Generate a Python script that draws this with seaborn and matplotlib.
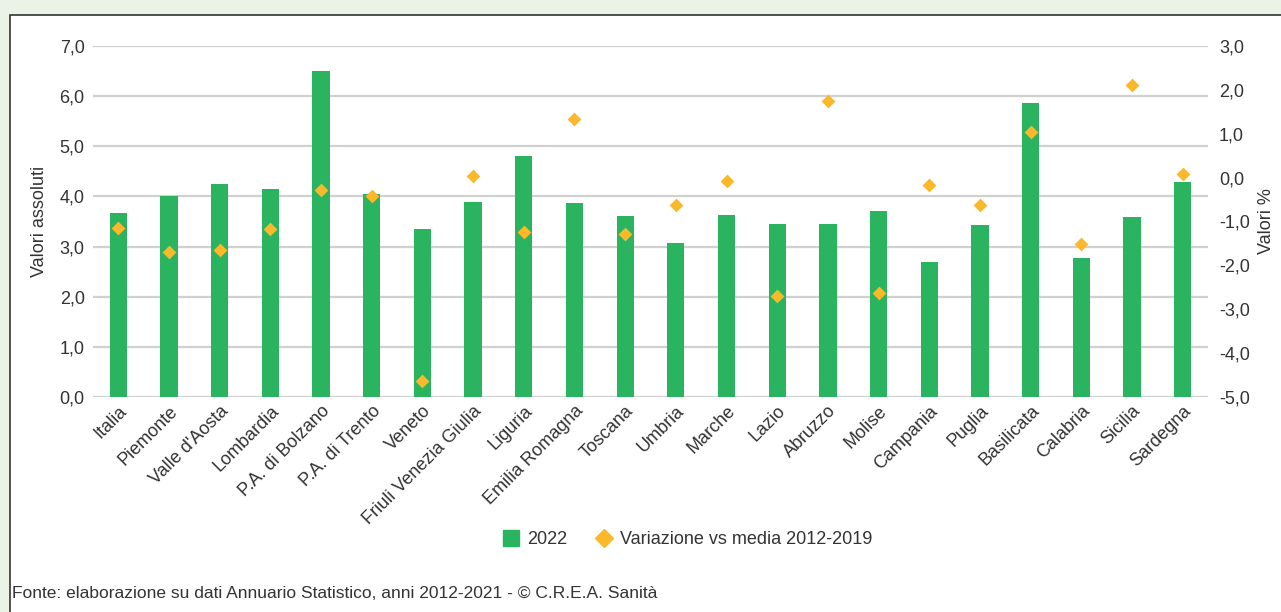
import pandas as pd
import matplotlib.pyplot as plt
import seaborn as sns
import numpy as np
from matplotlib.patches import Rectangle
from matplotlib.lines import Line2D
from matplotlib.ticker import FuncFormatter, MultipleLocator

regions = ["Italia", "Piemonte", "Valle d'Aosta", "Lombardia", "P.A. di Bolzano", "P.A. di Trento",
           "Veneto", "Friuli Venezia Giulia", "Liguria", "Emilia Romagna", "Toscana", "Umbria",
           "Marche", "Lazio", "Abruzzo", "Molise", "Campania", "Puglia", "Basilicata",
           "Calabria", "Sicilia", "Sardegna"]
valori_2022 = [3.67, 4.01, 4.24, 4.15, 6.50, 4.05, 3.36, 3.88, 4.81, 3.86, 3.60,
               3.08, 3.62, 3.46, 3.46, 3.70, 2.70, 3.43, 5.86, 2.77, 3.58, 4.29]
variazione = [-1.15, -1.69, -1.66, -1.17, -0.28, -0.43, -4.64, 0.03, -1.25, 1.33, -1.28,
              -0.62, -0.08, -2.69, 1.74, -2.64, -0.16, -0.62, 1.03, -1.52, 2.10, 0.08]

bar_color = '#2bb460'
dot_color = '#fbb829'
text_color = '#333333'

df = pd.DataFrame({'Regione': regions, 'Valore': valori_2022, 'Variazione': variazione})

sns.set_style('white')
plt.rcParams['font.family'] = ['Liberation Sans', 'DejaVu Sans']

fig = plt.figure(figsize=(12.81, 6.12), dpi=100, facecolor='#ebf3e6')
# white panel with dark border
fig.patches.append(Rectangle((10 / 1281, -0.05), 1.1, (612 - 15) / 612 + 0.05,
                             transform=fig.transFigure, facecolor='white',
                             edgecolor='#333333', linewidth=1.2, zorder=-5))

ax = fig.add_axes([93 / 1281, 1 - 397 / 612, (1208 - 93) / 1281, (397 - 46) / 612])
ax.set_facecolor('none')
sns.barplot(data=df, x='Regione', y='Valore', color=bar_color, width=0.34,
            saturation=1, linewidth=0, ax=ax)
ax.set_ylim(0, 7)
ax.set_xlim(-0.5, len(regions) - 0.5)
ax.yaxis.set_major_locator(MultipleLocator(1))
ax.grid(axis='y', color='#d0d0d0', linewidth=1.6)
ax.set_axisbelow(True)

fmt = FuncFormatter(lambda v, p: f"{v:.1f}".replace('.', ','))
ax.yaxis.set_major_formatter(fmt)

ax2 = ax.twinx()
sns.stripplot(data=df, x='Regione', y='Variazione', color=dot_color, marker='D',
              size=7, jitter=False, linewidth=0, ax=ax2)
ax2.set_ylim(-5, 3)
ax2.set_xlim(-0.5, len(regions) - 0.5)
ax2.yaxis.set_major_locator(MultipleLocator(1))
ax2.yaxis.set_major_formatter(fmt)

for a in (ax, ax2):
    for s in a.spines.values():
        s.set_visible(False)
    a.tick_params(length=0, labelsize=13, colors=text_color)

ax.tick_params(axis='y', pad=6)
ax2.tick_params(axis='y', pad=8)
ax.set_xlabel('')
ax2.set_xlabel('')
ax.set_ylabel('Valori assoluti', fontsize=13, color=text_color, labelpad=8)
ax2.set_ylabel('Valori %', fontsize=13, color=text_color, labelpad=6)
ax.set_xticks(range(len(regions)))
ax.set_xticklabels(regions, rotation=45, ha='right', rotation_mode='anchor', fontsize=13)
ax.tick_params(axis='x', pad=4)

handles = [Line2D([], [], marker='s', color=bar_color, linestyle='none', markersize=11,
                  label='2022'),
           Line2D([], [], marker='D', color=dot_color, linestyle='none', markersize=9,
                  label='Variazione vs media 2012-2019')]
fig.legend(handles=handles, loc='center', bbox_to_anchor=(688 / 1281, 1 - 540 / 612),
           ncol=2, frameon=False, fontsize=13, handlelength=0.8, handletextpad=0.5,
           columnspacing=1.6, labelcolor=text_color)

fig.text(12 / 1281, 1 - 594 / 612,
         'Fonte: elaborazione su dati Annuario Statistico, anni 2012-2021 - © C.R.E.A. Sanità',
         fontsize=12.5, color=text_color, va='center', ha='left')

fig.savefig('out.png', dpi=100, facecolor=fig.get_facecolor())
